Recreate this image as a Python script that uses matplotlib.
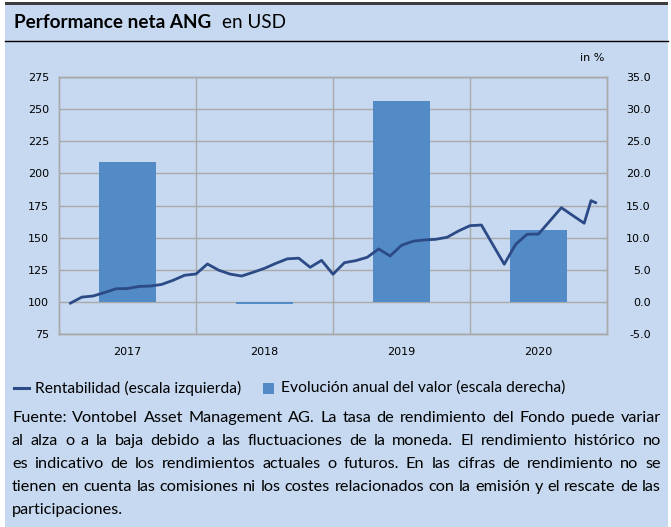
import matplotlib
matplotlib.use("Agg")
import matplotlib.pyplot as plt
from matplotlib.patches import Rectangle
from matplotlib.lines import Line2D

# data
years = ["2017", "2018", "2019", "2020"]
annual_pct = [21.7, -0.3, 31.2, 11.15]          # right scale, in %
months = [1, 2, 3, 4, 5, 6, 7, 8, 9, 10, 11, 12,
          13, 14, 15, 16, 17, 18, 19, 20, 21, 22, 23, 24,
          25, 26, 27, 28, 29, 30, 31, 32, 33, 34, 35, 36,
          37, 38, 39, 40, 41, 42, 43, 44, 45, 46, 46.6, 47.0]
perf = [99.0, 103.7, 104.6, 107.3, 110.2, 110.4, 112.0, 112.3, 113.6, 116.8, 120.7, 121.7,
        129.5, 124.6, 121.6, 120.1, 123.0, 126.1, 130.0, 133.5, 134.0, 126.9, 132.3, 121.5,
        130.5, 132.1, 134.7, 141.2, 135.7, 144.0, 147.2, 148.2, 148.7, 150.3, 155.2, 159.3,
        159.8, 144.5, 129.3, 144.8, 152.6, 152.8, 163.0, 173.3, 167.2, 161.2, 178.8, 177.2]
left_ticks = [75, 100, 125, 150, 175, 200, 225, 250, 275]
right_ticks = [-5, 0, 5, 10, 15, 20, 25, 30, 35]

title_bold = "Performance neta ANG"
title_rest = "en USD"
legend_line = "Rentabilidad (escala izquierda)"
legend_bar = "Evolución anual del valor (escala derecha)"
footnote = [
    "Fuente: Vontobel Asset Management AG. La tasa de rendimiento del Fondo puede variar",
    "al alza o a la baja debido a las fluctuaciones de la moneda. El rendimiento histórico no",
    "es indicativo de los rendimientos actuales o futuros. En las cifras de rendimiento no se",
    "tienen en cuenta las comisiones ni los costes relacionados con la emisión y el rescate de las",
    "participaciones.",
]

BG = "#c6d9f0"
BAR = "#528bc5"
LINE = "#2b4a86"
GRID = "#a9a9a9"
TXT = "Lato"

W, H = 671, 527
fig = plt.figure(figsize=(W / 100, H / 100), dpi=100, facecolor="white")
renderer = fig.canvas.get_renderer()


def fx(px):
    return px / W


def fy(py):
    return 1 - py / H


# panel background, top rule, header rule
fig.patches.append(Rectangle((fx(5), 0), fx(663), fy(2), transform=fig.transFigure,
                             facecolor=BG, edgecolor="none", zorder=-10))
fig.patches.append(Rectangle((fx(5), fy(5)), fx(663), 3 / H, transform=fig.transFigure,
                             facecolor="#3c3c3c", edgecolor="none", zorder=-9))
fig.add_artist(Line2D([fx(5), fx(668)], [fy(41), fy(41)], color="black", lw=1.0))


def width_of(s, size, weight="normal", family=TXT):
    t = fig.text(0, 0, s, fontsize=size, family=family, weight=weight)
    w = t.get_window_extent(renderer).width
    t.remove()
    return w


def fit(s, target, weight="normal", family=TXT):
    return 10 * target / width_of(s, 10, weight, family)


# title
tsize = fit(title_bold, 197, "bold")
fig.text(fx(14), fy(22), title_bold, fontsize=tsize, family=TXT, weight="bold",
         va="center", ha="left")
fig.text(fx(222), fy(22), title_rest, fontsize=tsize, family=TXT, va="center", ha="left")

# axes: bars (right scale) underneath, line (left scale) on top
axb = fig.add_axes([fx(59), fy(334), fx(548), 257 / H])
axl = axb.twinx()
axb.set_zorder(1)
axl.set_zorder(2)
axl.patch.set_visible(False)
axb.patch.set_visible(False)

centers = [6 + 12 * i for i in range(len(years))]
axb.bar(centers, annual_pct, width=5.08, color=BAR, edgecolor="none", zorder=2)
axb.set_ylim(-5, 35)
axb.set_yticks(right_ticks)
axb.set_yticklabels([f"{v:.1f}" for v in right_ticks])
axb.set_xlim(0, 48)
axb.set_axisbelow(True)
axb.grid(axis="y", color=GRID, lw=1.0, zorder=0)
for xb in [12, 24, 36]:
    axb.axvline(xb, color=GRID, lw=1.0, zorder=0.5)
axb.set_xticks(centers)
axb.set_xticklabels(years)
axb.yaxis.tick_right()

axl.plot(months, perf, color=LINE, lw=2.0, solid_joinstyle="round")
axl.set_ylim(75, 275)
axl.set_yticks(left_ticks)
axl.yaxis.tick_left()
axl.set_xlim(0, 48)

for a in (axl, axb):
    for sp in a.spines.values():
        sp.set_color(GRID)
        sp.set_linewidth(1.0)
    a.tick_params(length=0, labelsize=8, labelcolor="black")

axl.tick_params(axis="y", pad=7.2)
axb.tick_params(axis="x", pad=9.4)
axb.tick_params(axis="y", pad=31.5)
for lbl in axb.get_yticklabels():
    lbl.set_horizontalalignment("right")

fig.text(fx(592), fy(58), "in %", fontsize=8, ha="center", va="center")

# legend
lsize = fit(legend_line, 206)
fig.add_artist(Line2D([fx(14), fx(29)], [fy(388), fy(388)], color=LINE, lw=2.2))
fig.text(fx(35), fy(388), legend_line, fontsize=lsize, family=TXT, va="center")
fig.patches.append(Rectangle((fx(263), fy(394)), fx(11), 11 / H, transform=fig.transFigure,
                             facecolor=BAR, edgecolor="none"))
fig.text(fx(281), fy(388), legend_bar, fontsize=lsize, family=TXT, va="center")

# footnote, justified between x=12 and x=661
left, right = 12, 661
fsize = fit(footnote[3], right - left - 4)
space = width_of("a b", fsize) - width_of("ab", fsize)
for i, line in enumerate(footnote):
    y = fy(418 + 23 * i)
    words = line.split()
    widths = [width_of(w, fsize) for w in words]
    if i == len(footnote) - 1:
        gap = space
    else:
        gap = (right - left - sum(widths)) / (len(words) - 1)
    x = left
    for w, wd in zip(words, widths):
        fig.text(fx(x), y, w, fontsize=fsize, family=TXT, va="center", ha="left")
        x += wd + gap

fig.savefig("out.png", dpi=100, facecolor="white")
